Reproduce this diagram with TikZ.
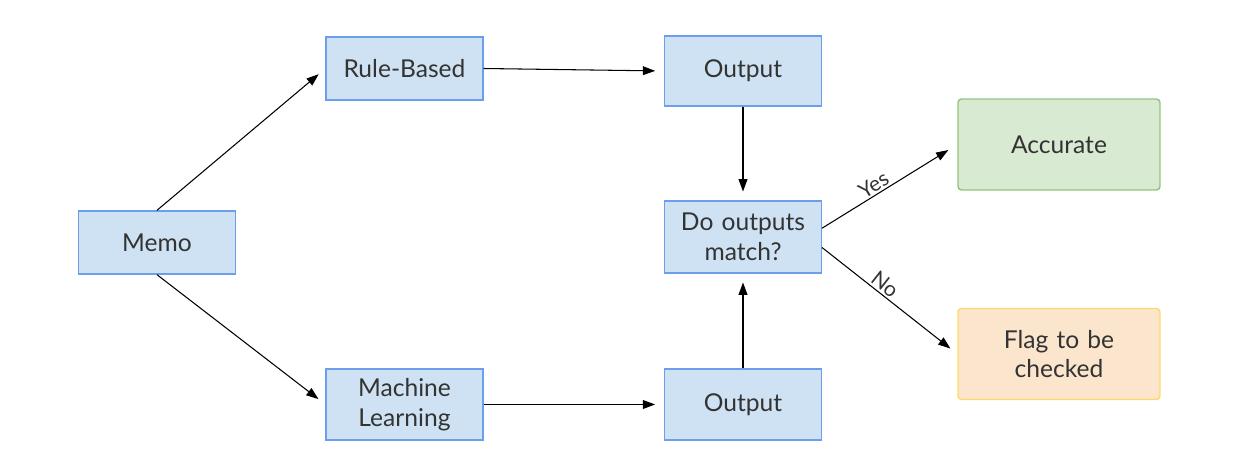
\documentclass[tikz,border=0pt]{standalone}
\usepackage{fontspec}
\setmainfont{Lato}
\usetikzlibrary{arrows.meta}
\definecolor{boxblue}{HTML}{CFE2F3}
\definecolor{lineblue}{HTML}{6D9EEB}
\definecolor{boxgreen}{HTML}{D9EAD3}
\definecolor{linegreen}{HTML}{93C47D}
\definecolor{boxorange}{HTML}{FCE5CD}
\definecolor{lineorange}{HTML}{FFD966}
\definecolor{textgray}{HTML}{333333}

\begin{document}
\begin{tikzpicture}[x=0.02cm, y=-0.02cm,
  every node/.style={rectangle, draw=lineblue, fill=boxblue, line width=0.8pt, text=textgray,
    text width=2.9cm, align=center, minimum width=3.12cm, font=\fontsize{14}{17}\selectfont},
  result/.style={rounded corners=2pt, minimum width=4.04cm, text width=3.8cm, minimum height=1.82cm},
  flow/.style={-{Triangle[length=7pt,width=5pt]}, line width=0.6pt, shorten >=5pt},
  answer/.style={draw=none, fill=none, text width=, minimum width=0pt, inner sep=1pt,
    font=\fontsize{12}{14}\selectfont, sloped, above, pos=0.42}]
  \useasboundingbox (0,0) rectangle (1242,476);

  \node[minimum height=1.26cm] (memo)  at (157, 242.5) {Memo};
  \node[minimum height=1.26cm] (rule)  at (404.5, 68.5) {Rule-Based};
  \node[minimum height=1.42cm] (ml)    at (404.5, 404.5) {Machine\\Learning};
  \node[minimum height=1.40cm] (out_r) at (743, 71) {Output};
  \node[minimum height=1.44cm] (match) at (743, 237) {Do outputs\\match?};
  \node[minimum height=1.42cm] (out_m) at (743, 404.5) {Output};
  \node[result, draw=linegreen, fill=boxgreen] (acc)  at (1059, 144.5) {Accurate};
  \node[result, draw=lineorange, fill=boxorange] (flag) at (1059, 354) {Flag to be\\checked};

  \draw[flow] (memo.north) -- (rule.west);
  \draw[flow] (memo.south) -- (ml.west);
  \draw[flow] (rule.east) -- (out_r.west);
  \draw[flow] (ml.east) -- (out_m.west);
  \draw[flow] (out_r.south) -- (match.north);
  \draw[flow] (out_m.north) -- (match.south);
  \draw[flow, shorten >=6pt] ([yshift=5pt]match.east) -- node[answer] {Yes} (acc.west);
  \draw[flow, shorten >=5pt] ([yshift=-6pt]match.east) -- node[answer] {No} (flag.west);
\end{tikzpicture}
\end{document}
